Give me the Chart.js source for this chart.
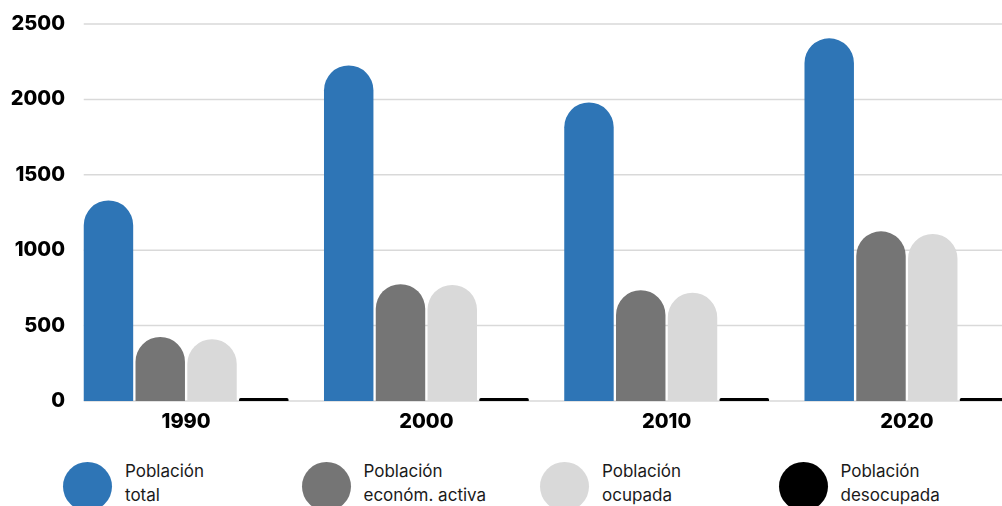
<!DOCTYPE html>
<html>
<head>
<meta charset="utf-8">
<script src="https://cdn.jsdelivr.net/npm/chart.js@4"></script>
<style>
  html, body { margin: 0; padding: 0; background: #fff; overflow: hidden; }
  #wrap { position: relative; width: 1002px; height: 506px; overflow: hidden; }
  #plot { position: absolute; left: 0; top: 0; width: 1027px; height: 444px; }
  .item { position: absolute; top: 462px; height: 49px; }
  .dot { position: absolute; left: 0; top: 0; width: 49px; height: 49px; border-radius: 50%; }
  .txt { position: absolute; left: 62px; top: -3px; white-space: nowrap;
         font-family: Inter, sans-serif; font-size: 17px; line-height: 24px; color: #1a1a1a; }
</style>
</head>
<body>
<div id="wrap">
  <div id="plot"><canvas id="popChart"></canvas></div>
  <div id="legend"></div>
</div>
<script>
// Datos
const years = ['1990', '2000', '2010', '2020'];
const seriesNames = ['Población total', 'Población económ. activa', 'Población ocupada', 'Población desocupada'];
const poblacionTotal = [1330, 2225, 1980, 2405];
const economActiva = [425, 775, 735, 1125];
const ocupada = [410, 770, 718, 1108];
const desocupada = [20, 20, 20, 20];
const yTicks = [0, 500, 1000, 1500, 2000, 2500];

const colors = ['#2E75B6', '#757575', '#D9D9D9', '#000000'];
const allSeries = [poblacionTotal, economActiva, ocupada, desocupada];

// gridlines start at the left edge of the first bar, like in the original
const gridFromBars = {
    id: 'gridFromBars',
    beforeDatasetsDraw(chart) {
        const { ctx, chartArea, scales: { y } } = chart;
        const first = chart.getDatasetMeta(0).data[0];
        const x0 = first.x - first.width / 2;
        ctx.save();
        ctx.strokeStyle = '#d9d9d9';
        ctx.lineWidth = 1.5;
        y.ticks.forEach(t => {
            const py = y.getPixelForValue(t.value);
            ctx.beginPath();
            ctx.moveTo(x0, py);
            ctx.lineTo(chartArea.right, py);
            ctx.stroke();
        });
        ctx.restore();
    }
};

document.addEventListener('DOMContentLoaded', function() {
    const ctx = document.getElementById('popChart');

    new Chart(ctx, {
        type: 'bar',
        data: {
            labels: years,
            datasets: allSeries.map((values, i) => ({
                label: seriesNames[i],
                data: values,
                backgroundColor: colors[i],
                borderRadius: { topLeft: 25, topRight: 25 },
                borderSkipped: 'bottom',
                categoryPercentage: 0.862,
                barPercentage: 0.955
            }))
        },
        options: {
            responsive: true,
            maintainAspectRatio: false,
            animation: false,
            layout: { padding: { top: 24, bottom: 9, left: 0, right: 0 } },
            plugins: {
                legend: { display: false },
                tooltip: { enabled: false }
            },
            scales: {
                x: {
                    grid: { display: false },
                    border: { display: false },
                    ticks: {
                        color: '#000',
                        padding: 3,
                        font: { family: 'Inter', size: 20, weight: 800, lineHeight: 1 }
                    }
                },
                y: {
                    min: 0,
                    max: 2500,
                    afterFit: s => { s.width = 66; },
                    afterBuildTicks: s => { s.ticks = yTicks.map(v => ({ value: v })); },
                    grid: { display: false, drawTicks: false },
                    border: { display: false },
                    ticks: {
                        color: '#000',
                        padding: 1,
                        callback: v => String(v),
                        font: { family: 'Inter', size: 20, weight: 800, lineHeight: 1 }
                    }
                }
            }
        },
        plugins: [gridFromBars]
    });

    // leyenda
    const legend = document.getElementById('legend');
    seriesNames.forEach((name, i) => {
        const cut = name.indexOf(' ');
        const item = document.createElement('div');
        item.className = 'item';
        item.style.left = (63 + i * 238.5) + 'px';
        const dot = document.createElement('div');
        dot.className = 'dot';
        dot.style.background = colors[i];
        const txt = document.createElement('div');
        txt.className = 'txt';
        txt.innerHTML = name.slice(0, cut) + '<br>' + name.slice(cut + 1);
        item.appendChild(dot);
        item.appendChild(txt);
        legend.appendChild(item);
    });
});
</script>
</body>
</html>
